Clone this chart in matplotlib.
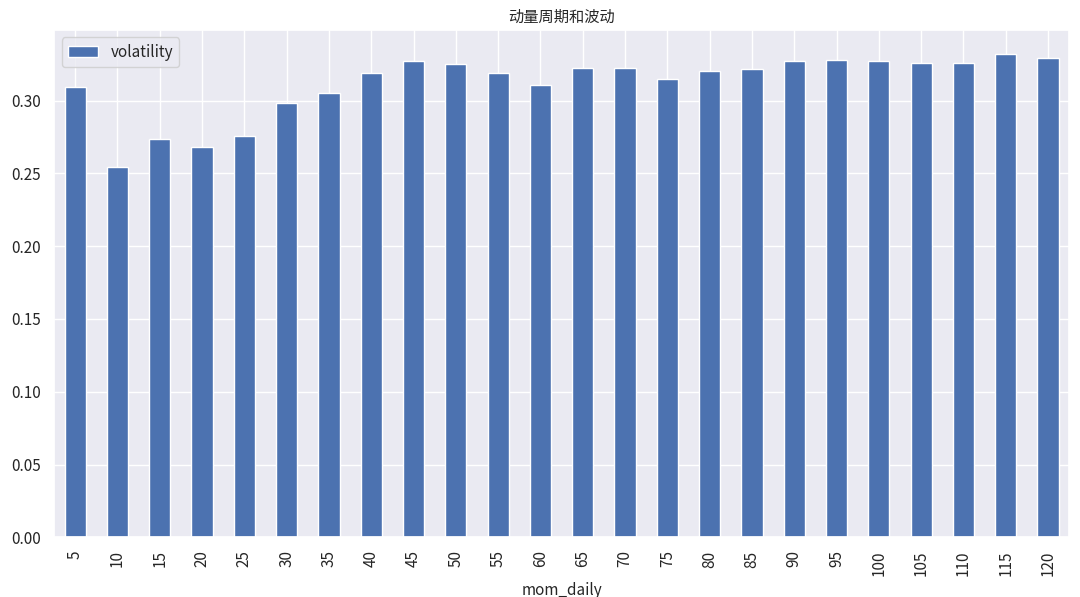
import matplotlib
matplotlib.use("Agg")
import matplotlib.pyplot as plt
import seaborn as sns

sns.set_theme(style="darkgrid")
plt.rcParams['font.family'] = ['Noto Sans CJK SC', 'DejaVu Sans']
plt.rcParams['axes.unicode_minus'] = False

categories = [5,10,15,20,25,30,35,40,45,50,55,60,65,70,75,80,85,90,95,100,105,110,115,120]
volatility = [0.309,0.2546,0.2739,0.2684,0.276,0.2986,0.3055,0.3193,0.3275,0.3248,0.3193,0.311,
              0.3227,0.3227,0.3151,0.320,0.322,0.3275,0.328,0.3275,0.3255,0.326,0.332,0.3296]

fig, ax = plt.subplots(figsize=(10.8, 5.97), dpi=100)
x = list(range(len(categories)))
ax.bar(x, volatility, width=0.5, color='#4c72b0', label='volatility')
ax.set_xticks(x)
ax.set_xticklabels([str(c) for c in categories], rotation=90)
ax.set_xlim(-0.5, len(categories)-0.5)
ax.set_xlabel('mom_daily', fontsize=11)
ax.set_title('动量周期和波动', fontsize=11)
ax.legend(loc='upper left')
fig.subplots_adjust(left=0.05, right=0.99, top=0.95, bottom=0.1)
fig.savefig('out.png')
